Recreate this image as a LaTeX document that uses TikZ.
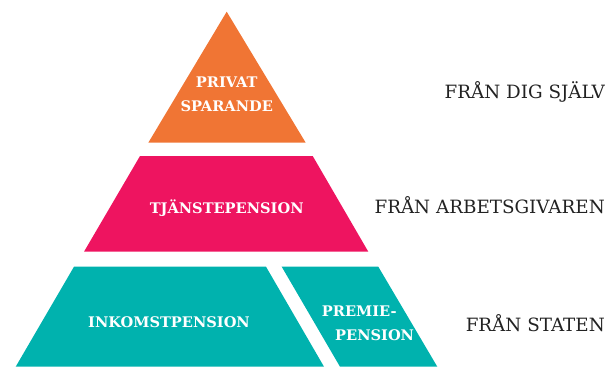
\documentclass[tikz,border=0pt]{standalone}
\usepackage{fontspec}
\setmainfont{DejaVu Serif}
\usetikzlibrary{positioning}
\definecolor{orangeblock}{HTML}{F07534}
\definecolor{pinkblock}{HTML}{EE1460}
\definecolor{tealblock}{HTML}{00B2AE}
\definecolor{sourcegray}{HTML}{222222}
\tikzset{
  centered/.style = { align=center, anchor=center },
  blocktext/.style = { font=\bfseries\fontsize{14.6}{24}\selectfont, text=white, inner sep=0pt },
     source/.style = { font=\fontsize{18.3}{22}\selectfont, text=sourcegray, anchor=base east, inner sep=0pt }
}

\begin{document}
\begin{tikzpicture}[x=1pt,y=-1pt]
  \useasboundingbox (0,0) rectangle (610,367);

  % the three steps of the pyramid
  \fill [orangeblock] (226.7,11.7) -- (305.7,142.7) -- (148.3,142.7) -- cycle;
  \fill [pinkblock] (140,156) -- (312.7,156) -- (368.3,251.7) -- (84,251.7) -- cycle;
  \fill [tealblock] (74,266.7) -- (266,266.7) -- (324,366.7) -- (15.7,366.7) -- cycle;
  \fill [tealblock] (281.7,266.7) -- (378.3,266.7) -- (437.3,366.7) -- (340,366.7) -- cycle;

  \node [blocktext, centered] (privat) at (226.7,94) {PRIVAT\\SPARANDE};
  \node [blocktext, anchor=base] (tjanst) at (226.7,213.3) {TJÄNSTEPENSION};
  \node [blocktext, anchor=base] (inkomst) at (169,327.7) {INKOMSTPENSION};
  \node [blocktext, align=left, anchor=west] (premie) at (321.7,323) {PREMIE-\\\hspace*{13.3pt}PENSION};

  \node [source] (dig) at (605,98.3) {FRÅN DIG SJÄLV};
  \node [source] (arbgiv) at (605,213.3) {FRÅN ARBETSGIVAREN};
  \node [source] (staten) at (605,331.7) {FRÅN STATEN};
\end{tikzpicture}
\end{document}
